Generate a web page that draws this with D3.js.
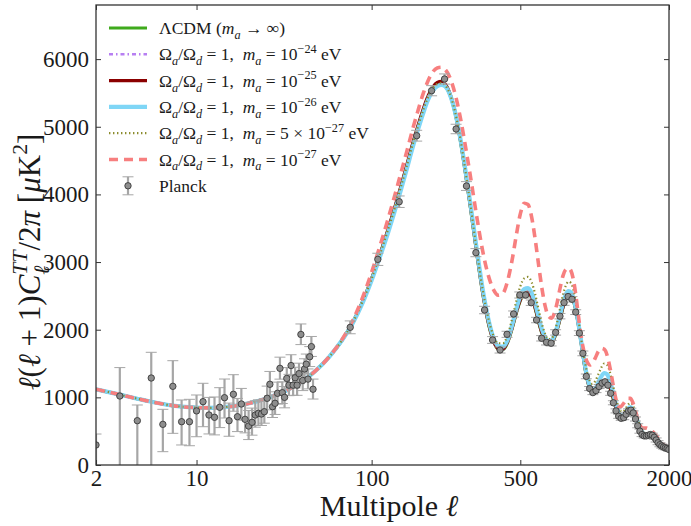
<!DOCTYPE html>
<html><head><meta charset="utf-8">
<script src="https://cdn.jsdelivr.net/npm/d3@7"></script>
<style>
body{margin:0;background:#fff;}
svg text{font-family:"Liberation Serif","Times New Roman",serif;fill:#1a1a1a;white-space:pre;}
</style></head><body>
<svg id="c" width="691" height="526"></svg>
<script>
// ---------------- data ----------------
const ell = [2,3,4,5,6,7,8,10,12,15,20,25,30,35,40,45,50,60,70,80,90,
100,110,120,130,140,150,160,170,180,190,200,210,220,230,240,250,260,270,280,290,300,
320,340,360,380,400,420,440,460,480,500,520,540,560,580,600,620,640,660,680,700,720,740,760,780,800,
820,840,860,880,900,920,940,960,980,1000,1030,1060,1090,1120,1150,1180,1210,1240,1270,1300,1330,1360,
1390,1420,1450,1480,1510,1540,1570,1600,1640,1680,1720,1760,1800,1850,1900,1950,2000];

const lcdm = [1120,1040,980,935,902,878,862,848,845,855,900,960,1030,1105,1190,1280,1380,1600,1840,2110,2420,
2750,3100,3440,3770,4100,4420,4730,5000,5240,5430,5560,5630,5645,5600,5490,5310,5070,4780,4460,4130,3800,
3140,2560,2120,1840,1710,1705,1810,2010,2240,2430,2530,2545,2470,2310,2110,1940,1830,1790,1800,1880,2010,2170,2330,2450,2510,
2500,2420,2270,2060,1830,1600,1390,1230,1120,1070,1075,1130,1190,1230,1220,1140,1010,870,760,695,685,715,
770,805,795,740,650,560,485,445,425,438,445,420,370,315,278,255,238];

const ma24 = [1120,1040,980,935,902,878,862,848,845,855,900,960,1030,1105,1190,1280,1380,1600,1840,2110,2420,
2750,3100,3440,3770,4100,4420,4730,5000,5240,5430,5560,5630,5645,5600,5490,5310,5070,4780,4460,4130,3800,
3140,2560,2120,1840,1710,1705,1810,2010,2240,2430,2530,2545,2470,2310,2110,1940,1830,1790,1800,1880,2010,2170,2330,2450,2510,
2500,2420,2270,2060,1830,1600,1390,1230,1120,1070,1075,1130,1190,1230,1220,1140,1010,870,760,695,685,715,
770,805,795,740,650,560,485,445,425,438,445,420,370,315,278,255,238];

const ma25 = [1120,1040,980,935,902,878,862,848,845,855,900,960,1030,1105,1190,1280,1380,1600,1840,2110,2420,
2755,3105,3450,3785,4115,4440,4750,5020,5260,5455,5585,5655,5670,5625,5510,5330,5085,4795,4470,4140,3810,
3150,2570,2130,1850,1720,1715,1820,2020,2250,2440,2540,2555,2480,2320,2120,1950,1840,1800,1810,1890,2020,2180,2340,2460,2520,
2510,2430,2280,2070,1840,1610,1400,1240,1130,1080,1085,1140,1200,1240,1230,1150,1020,880,770,705,695,725,
780,815,805,750,660,568,492,450,430,442,450,425,374,318,280,257,240];

const ma26 = [1120,1040,980,935,902,878,862,848,845,855,900,960,1030,1105,1190,1280,1380,1600,1840,2100,2400,
2730,3070,3400,3730,4060,4380,4690,4960,5200,5400,5530,5600,5620,5590,5490,5320,5090,4810,4500,4170,3850,
3200,2620,2180,1890,1760,1750,1850,2060,2300,2500,2600,2615,2540,2380,2180,2000,1880,1830,1840,1920,2060,2230,2400,2520,2570,
2550,2460,2300,2090,1860,1640,1430,1270,1160,1110,1130,1220,1310,1360,1340,1240,1090,930,800,735,730,770,
830,855,830,760,670,575,500,460,440,450,455,430,380,322,283,258,240];

const ma5e27 = [1120,1040,980,935,902,878,862,848,845,855,900,960,1030,1105,1190,1280,1380,1600,1840,2110,2420,
2755,3105,3445,3775,4105,4425,4735,5005,5245,5435,5565,5632,5648,5605,5500,5325,5090,4805,4490,4165,3840,
3180,2610,2190,1920,1800,1800,1920,2150,2420,2640,2760,2780,2700,2520,2290,2080,1930,1860,1870,1960,2130,2330,2520,2650,2710,
2690,2580,2390,2150,1900,1670,1480,1330,1240,1200,1240,1340,1440,1500,1480,1370,1200,1020,880,800,790,830,
890,920,890,810,710,610,530,490,465,470,470,445,395,335,293,265,246];

const ma27 = [1120,1040,980,935,902,878,862,848,845,855,900,960,1030,1105,1190,1280,1380,1600,1850,2140,2480,
2850,3230,3600,3960,4310,4640,4960,5240,5490,5680,5810,5870,5880,5840,5740,5580,5370,5120,4840,4550,4260,
3680,3180,2820,2600,2510,2540,2720,3020,3390,3710,3870,3850,3660,3330,2950,2600,2340,2200,2170,2250,2420,2630,2800,2890,2910,
2870,2730,2490,2200,1930,1730,1590,1510,1480,1500,1580,1680,1725,1710,1620,1440,1220,1010,870,860,900,950,
985,985,930,830,710,610,555,545,545,525,500,470,420,350,305,280,262];

// Planck low-ell (unbinned)
const lowEll = [2,3,4,5,6,7,8,9,10,11,12,13,14,15,16,17,18,19,20,21,22,23,24,25,26,27,28,29,
30,31,32,33,34,35,36,37,38,39,40,41,42,43,44,45,46,47,48,49];
const lowD = [296,1020,655,1286,601,1163,640,640,800,936,739,705,853,995,655,1045,714,902,675,576,631,739,764,754,788,986,1193,862,
912,1060,1429,1069,1000,1280,1180,1470,1180,1290,1180,1350,1930,1250,1420,1490,1270,1600,1750,1120];
const lowErrUp = [162,420,232,380,222,379,321,331,235,272,260,300,290,276,260,290,270,230,250,230,210,210,200,190,190,180,190,170,
170,165,165,160,160,160,160,160,155,155,155,155,155,150,150,150,150,150,150,150];
const lowErrDn = [400,1100,700,1400,404,695,344,355,382,370,280,260,300,300,230,250,220,240,200,200,190,180,180,170,170,170,170,160,
165,160,160,160,155,155,155,155,150,150,150,150,150,150,150,145,145,145,145,145];

// Planck binned high-ell
const binEll = [77.5,107.5,137.5,167.5,197.5,227.5,257.5,287.5,317.5,347.5,377.5,407.5,437.5,467.5,497.5,527.5,557.5,587.5,
617.5,647.5,677.5,707.5,737.5,767.5,797.5,827.5,857.5,887.5,917.5,947.5,977.5,1007.5,1037.5,1067.5,1097.5,1127.5,1157.5,
1187.5,1217.5,1247.5,1277.5,1307.5,1337.5,1367.5,1397.5,1427.5,1457.5,1487.5,1517.5,1547.5,1577.5,1607.5,1637.5,1667.5,
1697.5,1727.5,1757.5,1787.5,1817.5,1847.5,1877.5,1907.5,1937.5,1967.5,1997.5];
const binD = [2035,3040,3892,4868,5533,5706,4967,4124,3139,2291,1848,1700,1932,2232,2513,2513,2399,2143,
1873,1814,1800,1960,2200,2400,2490,2450,2260,1950,1650,1310,1130,1070,1100,1160,1210,1230,1180,
1060,920,800,720,690,700,750,800,810,770,680,580,500,450,430,430,440,
450,440,410,370,330,300,280,265,255,245,230];
const binErr = [95,90,85,80,75,75,70,65,60,55,50,45,45,45,45,45,40,40,
40,40,40,40,40,40,40,40,35,35,35,35,30,30,30,30,30,30,30,
30,30,30,30,30,30,30,30,30,30,30,30,30,30,30,30,30,
30,30,30,30,30,30,30,30,30,30,30];

const xTicks = [2,10,100,500,2000];
const yTicks = [0,1000,2000,3000,4000,5000,6000];

// ---------------- styles ----------------
const series = [
  {vals: lcdm,   color:"#3faa1c", width:3.2, dash:null},
  {vals: ma24,   color:"#b77ff2", width:2.6, dash:"4,3,1.5,3"},
  {vals: ma25,   color:"#8b0000", width:3.2, dash:null},
  {vals: ma26,   color:"#7fd6f6", width:4.2, dash:null},
  {vals: ma5e27, color:"#8c8c2e", width:2.2, dash:"1.4,2.6"},
  {vals: ma27,   color:"#f77f7f", width:3.6, dash:"9,6"}
];

const L=96,R=669,T=5,B=465;
const svg = d3.select("#c");
const x = d3.scalePow().exponent(0.1).domain([2,2000]).range([L,R]);
const y = d3.scaleLinear().domain([0,6800]).range([B,T]);

svg.append("defs").append("clipPath").attr("id","clip")
  .append("rect").attr("x",L).attr("y",T).attr("width",R-L).attr("height",B-T);

const plot = svg.append("g").attr("clip-path","url(#clip)");

const line = d3.line().x(d=>x(d[0])).y(d=>y(d[1])).curve(d3.curveMonotoneX);
series.forEach(s=>{
  const pts = ell.map((l,i)=>[l,s.vals[i]]);
  plot.append("path").attr("d",line(pts)).attr("fill","none")
    .attr("stroke",s.color).attr("stroke-width",s.width)
    .attr("stroke-dasharray",s.dash).attr("stroke-linejoin","round");
});

// Planck points
const pts = lowEll.map((l,i)=>({l,d:lowD[i],up:lowErrUp[i],dn:lowErrDn[i]}))
  .concat(binEll.map((l,i)=>({l,d:binD[i],up:binErr[i],dn:binErr[i]})));
const eb = plot.append("g").attr("stroke","#a6a6a6");
pts.forEach(p=>{
  const cx=x(p.l);
  eb.append("line").attr("x1",cx).attr("x2",cx).attr("y1",y(p.d+p.up)).attr("y2",y(p.d-p.dn)).attr("stroke-width",2.2);
  [p.d+p.up,p.d-p.dn].forEach(v=>{
    eb.append("line").attr("x1",cx-5.5).attr("x2",cx+5.5).attr("y1",y(v)).attr("y2",y(v)).attr("stroke-width",1);
  });
});
plot.append("g").selectAll("circle").data(pts).join("circle")
  .attr("cx",d=>x(d.l)).attr("cy",d=>y(d.d)).attr("r",3.2)
  .attr("fill","#8e8e8e").attr("stroke","#3a3a3a").attr("stroke-width",0.9);

// axes
function styleAxis(g){
  g.selectAll(".domain").remove();
  g.selectAll(".tick line").attr("stroke","#333").attr("stroke-width",1);
  g.selectAll("text").attr("font-size",23).attr("fill","#1a1a1a")
   .attr("font-family","'Liberation Serif',serif");
}
svg.append("g").attr("transform",`translate(0,${B})`)
  .call(d3.axisBottom(x).tickValues(xTicks).tickFormat(d3.format("d")).tickSizeInner(-5).tickSizeOuter(0).tickPadding(5))
  .call(styleAxis);
svg.append("g").attr("transform",`translate(0,${T})`)
  .call(d3.axisTop(x).tickValues(xTicks).tickFormat("").tickSizeInner(-5).tickSizeOuter(0))
  .call(styleAxis);
svg.append("g").attr("transform",`translate(${L},0)`)
  .call(d3.axisLeft(y).tickValues(yTicks).tickFormat(d3.format("d")).tickSizeInner(-5).tickSizeOuter(0).tickPadding(7))
  .call(styleAxis);
svg.append("g").attr("transform",`translate(${R},0)`)
  .call(d3.axisRight(y).tickValues(yTicks).tickFormat("").tickSizeInner(-5).tickSizeOuter(0))
  .call(styleAxis);

svg.append("rect").attr("x",L).attr("y",T).attr("width",R-L).attr("height",B-T)
  .attr("fill","none").attr("stroke","#333").attr("stroke-width",1.3);

// rich text helper
function rich(t, parts, size){
  let cur=0;
  parts.forEach(p=>{
    const ts=t.append("tspan").text(p.t);
    let target=0, fs=size;
    if(p.sub){target=0.28*size; fs=0.7*size;}
    if(p.sup){target=-0.42*size; fs=0.7*size;}
    ts.attr("font-size",fs);
    if(p.i) ts.attr("font-style","italic");
    if(target-cur!==0) ts.attr("dy",target-cur);
    cur=target;
    if(p.stackBack){
      const prev = t.selectAll("tspan").nodes();
      const w = prev[prev.length-2].getComputedTextLength();
      ts.attr("dx",-w);
    }
  });
  return t;
}

// axis labels
rich(svg.append("text").attr("x",389).attr("y",516).attr("text-anchor","middle"),
  [{t:"Multipole "},{t:"ℓ",i:1}],30);

const yl = svg.append("text").attr("text-anchor","middle")
  .attr("transform","translate(40,262) rotate(-90)");
rich(yl,[{t:"ℓ",i:1},{t:"("},{t:"ℓ",i:1},{t:" + 1)"},{t:"C",i:1},{t:"ℓ",i:1,sub:1},
  {t:"TT",i:1,sup:1,stackBack:1},{t:"/2"},{t:"π",i:1},{t:" ["},{t:"μ",i:1},{t:"K"},{t:"2",sup:1},{t:"]"}],31);

// legend
const legY0=28, legDy=26.3, legX1=109, legX2=147, legTX=159, legFS=17.5;
const omega = (m)=>[{t:"Ω"},{t:"a",i:1,sub:1},{t:"/Ω"},{t:"d",i:1,sub:1},{t:" = 1,  "},{t:"m",i:1},{t:"a",i:1,sub:1},{t:m[0]},{t:m[1],sup:1},{t:" eV"}];
const legTexts = [
  [{t:"ΛCDM ("},{t:"m",i:1},{t:"a",i:1,sub:1},{t:" → ∞)"}],
  omega([" = 10","−24"]),
  omega([" = 10","−25"]),
  omega([" = 10","−26"]),
  omega([" = 5 × 10","−27"]),
  omega([" = 10","−27"])
];
const leg = svg.append("g");
series.forEach((s,i)=>{
  const yy = legY0+i*legDy;
  leg.append("line").attr("x1",legX1).attr("x2",legX2).attr("y1",yy).attr("y2",yy)
    .attr("stroke",s.color).attr("stroke-width",s.width).attr("stroke-dasharray",s.dash);
  rich(leg.append("text").attr("x",legTX).attr("y",yy+6), legTexts[i], legFS);
});
{
  const yy = legY0+6*legDy, cx=(legX1+legX2)/2;
  leg.append("line").attr("x1",cx).attr("x2",cx).attr("y1",yy-9).attr("y2",yy+9).attr("stroke","#a6a6a6").attr("stroke-width",2.2);
  [yy-9,yy+9].forEach(v=>leg.append("line").attr("x1",cx-5.5).attr("x2",cx+5.5).attr("y1",v).attr("y2",v).attr("stroke","#a6a6a6"));
  leg.append("circle").attr("cx",cx).attr("cy",yy).attr("r",3.2).attr("fill","#8e8e8e").attr("stroke","#3a3a3a").attr("stroke-width",0.9);
  leg.append("text").attr("x",legTX).attr("y",yy+6).attr("font-size",legFS).text("Planck");
}
</script></body></html>
